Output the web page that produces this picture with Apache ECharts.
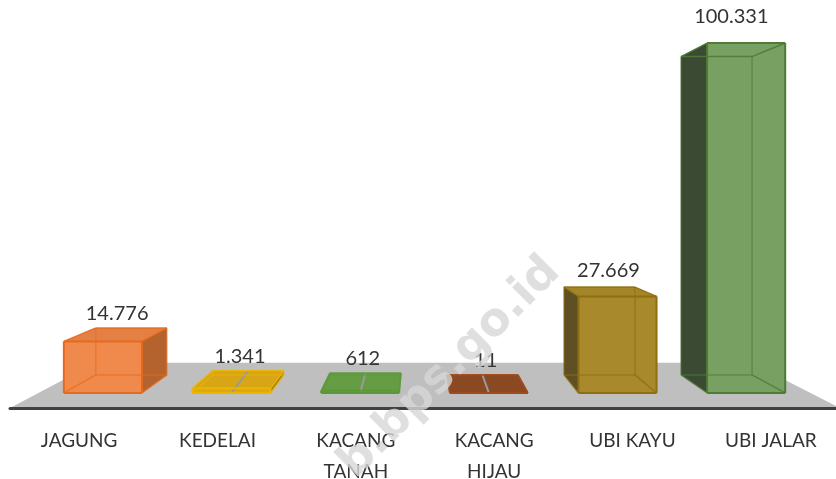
<!DOCTYPE html>
<html><head><meta charset="utf-8">
<script src="https://cdn.jsdelivr.net/npm/echarts@6/dist/echarts.min.js"></script>
<style>html,body{margin:0;padding:0;background:#fff}#c{width:836px;height:479px}</style>
</head><body><div id="c"></div>
<script>
// ---- data ----
const categories = ['JAGUNG', 'KEDELAI', 'KACANG\nTANAH', 'KACANG\nHIJAU', 'UBI KAYU', 'UBI JALAR'];
const values = [14776, 1341, 612, 11, 27669, 100331];
const valueLabels = ['14.776', '1.341', '612', '11', '27.669', '100.331'];

// ---- styles ----
const palette = [
  {front:'#F08A4C', top:'#E58044', side:'#B4622E', edge:'#E46A1E'},
  {front:'#DDA912', top:'#D7A516', side:'#A27A10', edge:'#EBB500'},
  {front:'#69A047', top:'#659D45', side:'#4C7A33', edge:'#5C983A'},
  {front:'#8C4A22', top:'#8A4823', side:'#66351A', edge:'#A04B1C'},
  {front:'#A8892C', top:'#A4862A', side:'#5F4F25', edge:'#8F6F10'},
  {front:'#79A063', top:'#6E9A58', side:'#3B4A33', edge:'#4E7B36'}
];
const VP = [418, 193];
const K_FRONT = 0.93, K_BACK = 0.846, K_FLOOR = 0.79, BAR_FRAC = 0.607;
function proj(p, k) { return [VP[0] + (p[0] - VP[0]) * k, VP[1] + (p[1] - VP[1]) * k]; }

function renderFloor(params, api) {
  const band = api.size([1, 0])[0];
  const first = api.coord([0, 0]);
  const last = api.coord([categories.length - 1, 0]);
  const xL = first[0] - band / 2, xR = last[0] + band / 2, y = first[1];
  const pts = [[xL, y], [xR, y], proj([xR, y], K_FLOOR), proj([xL, y], K_FLOOR)];
  return {type: 'polygon', shape: {points: pts}, style: {fill: '#BFBFBF'}};
}

function renderBar(params, api) {
  const i = api.value(0), v = api.value(1);
  const base = api.coord([i, 0]), top = api.coord([i, v]);
  const band = api.size([1, 0])[0];
  const hw = band * BAR_FRAC / 2;
  const L = base[0] - hw, R = base[0] + hw, yB = base[1], yT = top[1];
  const mk = (k) => ({BL: proj([L, yB], k), BR: proj([R, yB], k), TL: proj([L, yT], k), TR: proj([R, yT], k)});
  const f = mk(K_FRONT), b = mk(K_BACK);
  const c = palette[i];
  const poly = (pts, fill) => ({type: 'polygon', shape: {points: pts}, style: {fill: fill}});
  const seg = (a, z, w, op) => ({type: 'line', shape: {x1: a[0], y1: a[1], x2: z[0], y2: z[1]},
    style: {stroke: c.edge, lineWidth: w, opacity: op}});
  const leftVisible = base[0] > VP[0];
  const side = leftVisible ? [f.TL, b.TL, b.BL, f.BL] : [f.TR, b.TR, b.BR, f.BR];
  const children = [];
  children.push(poly([f.TL, f.TR, b.TR, b.TL], c.top));
  children.push(poly(side, c.side));
  children.push(poly([f.BL, f.BR, f.TR, f.TL], c.front));
  if (yB - yT < 10) {
    children.push({type: 'line', shape: {x1: base[0] * K_FRONT + VP[0] * (1 - K_FRONT), y1: f.BL[1],
      x2: base[0] * K_BACK + VP[0] * (1 - K_BACK), y2: b.TL[1]},
      style: {stroke: '#9A9A9A', lineWidth: 2}});
  }
  // back edges (seen through)
  children.push(seg(b.BL, b.BR, 1.5, 0.6), seg(b.BR, b.TR, 1.5, 0.6), seg(b.TR, b.TL, 1.5, 0.9), seg(b.TL, b.BL, 1.5, 0.6));
  // connectors
  children.push(seg(f.BL, b.BL, 1.5, 0.7), seg(f.BR, b.BR, 1.5, 0.8), seg(f.TL, b.TL, 1.5, 0.9), seg(f.TR, b.TR, 1.5, 0.9));
  // front outline
  children.push(seg(f.BL, f.BR, 2, 1), seg(f.BR, f.TR, 2, 1), seg(f.TR, f.TL, 2, 1), seg(f.TL, f.BL, 2, 1));
  // value label
  const tx = (f.TL[0] + f.TR[0] + b.TL[0] + b.TR[0]) / 4;
  const ty = Math.min(f.TL[1] - 26, b.TL[1] - 14);
  children.push({type: 'text', x: tx, y: ty, style: {text: valueLabels[i], fill: '#333333',
    font: '20px Lato', fontSize: 20, fontFamily: 'Lato', align: 'center', verticalAlign: 'middle',
    textAlign: 'center', textVerticalAlign: 'middle'}});
  return {type: 'group', children: children};
}

const chart = echarts.init(document.getElementById('c'), null, {renderer: 'canvas'});
chart.setOption({
  animation: false,
  backgroundColor: '#ffffff',
  grid: {left: 10, top: 0, width: 830, bottom: 71, outerBoundsMode: 'none', containLabel: false},
  xAxis: {
    type: 'category', data: categories, z: 10,
    axisTick: {show: false},
    axisLine: {lineStyle: {color: '#404040', width: 3}},
    axisLabel: {interval: 0, fontSize: 19, fontFamily: 'Lato', color: '#333333', lineHeight: 31, margin: 17}
  },
  yAxis: {type: 'value', min: 0, max: 108800, show: false, splitLine: {show: false}},
  series: [
    {type: 'custom', z: 1, renderItem: renderFloor, data: [[0, 0]], silent: true},
    {type: 'custom', z: 2, renderItem: renderBar, data: values.map((v, i) => [i, v])}
  ],
  graphic: [{
    type: 'text', x: 450, y: 368, rotation: Math.PI / 4, z: 100, silent: true,
    style: {text: 'b.bps.go.id', font: 'bold 46px "DejaVu Sans"', fill: 'rgba(215,215,215,0.8)',
      align: 'center', verticalAlign: 'middle', textAlign: 'center', textVerticalAlign: 'middle'}
  }]
});
</script></body></html>
